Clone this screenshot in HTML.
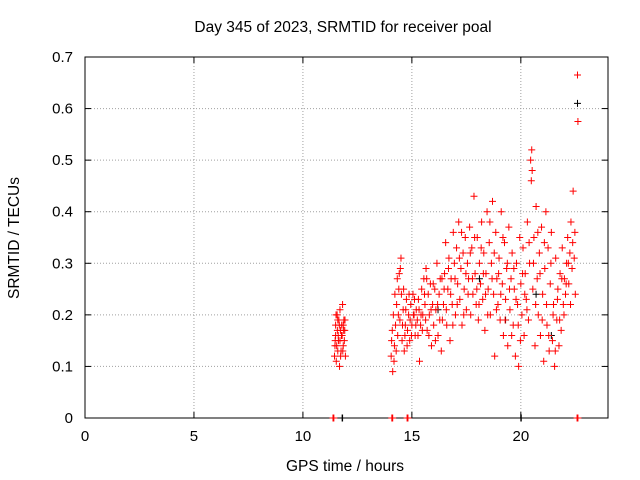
<!DOCTYPE html>
<html><head><meta charset="utf-8"><style>
html,body{margin:0;padding:0;background:#fff}
svg{display:block;font-family:"Liberation Sans",sans-serif}
</style></head><body>
<svg id="chart" width="640" height="480" viewBox="0 0 640 480">
<rect width="640" height="480" fill="#fff"/>
<text x="343" y="32" font-size="15.5" text-anchor="middle" fill="#000">Day 345 of 2023, SRMTID for receiver poal</text>
<g id="grid"></g>
<g id="axes"></g>
<g id="marks"></g>
<text x="345" y="471" font-size="15.5" text-anchor="middle">GPS time / hours</text>
<text transform="translate(19,238) rotate(-90)" font-size="15.5" text-anchor="middle">SRMTID / TECUs</text>
</svg>
<script>
const xTicks=[0,5,10,15,20];
const yTicks=[0,0.1,0.2,0.3,0.4,0.5,0.6,0.7];
const yTickLabels=["0","0.1","0.2","0.3","0.4","0.5","0.6","0.7"];
const redTimes=[11.45,11.48,11.5,11.52,11.55,11.58,11.6,11.62,11.65,11.68,11.7,11.72,11.75,11.78,11.8,11.82,11.85,11.88,11.9,11.92,11.95,11.5,11.6,11.7,11.85,
14.05,14.1,14.12,14.15,14.2,14.25,14.3,14.35,14.4,14.42,14.45,14.5,14.52,14.55,14.6,14.65,14.7,14.75,14.8,14.85,14.9,14.95,15.0,15.05,15.1,15.15,15.2,15.25,15.3,15.35,15.4,15.45,15.5,15.55,15.6,15.65,15.7,15.75,15.8,15.85,15.9,15.95,16.0,16.05,16.1,16.15,16.2,16.25,16.3,16.35,16.4,16.45,16.5,16.55,16.6,16.65,16.7,16.75,16.8,16.85,16.9,16.95,17.0,17.05,17.1,17.15,17.2,17.25,17.3,17.35,17.4,17.45,17.5,17.55,17.6,17.65,17.7,17.75,17.8,17.85,17.9,17.95,18.0,18.05,18.1,18.15,18.2,18.25,18.3,18.35,18.4,18.45,18.5,18.55,18.6,18.65,18.7,18.75,18.8,18.85,18.9,18.95,19.0,19.05,19.1,19.15,19.2,19.25,19.3,19.35,19.4,19.45,19.5,19.55,19.6,19.65,19.7,19.75,19.8,19.85,19.9,19.95,20.0,20.05,20.1,20.15,20.2,20.25,20.3,20.35,20.4,20.45,20.5,20.55,20.6,20.65,20.7,20.75,20.8,20.85,20.9,20.95,21.0,21.05,21.1,21.15,21.2,21.25,21.3,21.35,21.4,21.45,21.5,21.55,21.6,21.65,21.7,21.75,21.8,21.85,21.9,21.95,22.0,22.05,22.1,22.15,22.2,22.25,22.3,22.35,22.4,22.45,22.5,22.6,22.62,
11.47,11.53,11.57,11.63,11.67,11.73,11.77,11.83,11.87,11.93,
14.07,14.18,14.22,14.28,14.33,14.38,14.47,14.57,14.62,14.68,14.72,14.78,14.87,14.92,14.98,15.07,15.12,15.18,15.28,15.33,15.42,15.48,15.58,15.63,15.68,15.78,15.88,15.98,16.08,16.18,16.28,16.38,16.48,16.58,16.68,16.78,16.88,16.98,17.08,17.18,17.28,17.38,17.48,17.58,17.68,17.78,17.88,17.98,18.08,18.18,18.28,18.38,18.48,18.58,18.68,18.78,18.88,18.98,19.08,19.18,19.28,19.38,19.48,19.58,19.68,19.78,19.88,19.98,20.08,20.18,20.28,20.38,20.48,20.52,20.58,20.68,20.78,20.88,20.98,21.08,21.18,21.28,21.38,21.48,21.58,21.68,21.78,21.88,21.98,22.08,22.18,22.28,22.38,22.48,
11.38,11.4,11.42,14.08,14.1,14.12,14.78,14.8,14.82,22.58,22.6,22.62];
const redValues=[.12,.15,.18,.2,.14,.17,.13,.16,.19,.1,.15,.17,.13,.18,.16,.22,.14,.19,.15,.17,.12,.16,.19,.21,.18,
.12,.17,.09,.2,.14,.18,.22,.16,.25,.28,.19,.31,.24,.15,.21,.13,.18,.23,.17,.2,.15,.22,.18,.24,.2,.16,.21,.19,.23,.11,.18,.25,.2,.27,.22,.29,.17,.24,.2,.26,.14,.22,.18,.25,.21,.3,.16,.24,.27,.13,.19,.22,.28,.34,.18,.25,.31,.15,.27,.22,.36,.3,.2,.33,.26,.38,.23,.29,.18,.32,.25,.35,.21,.3,.27,.37,.2,.33,.24,.43,.28,.22,.35,.19,.3,.26,.38,.23,.32,.17,.28,.4,.25,.34,.2,.3,.42,.24,.12,.36,.27,.22,.31,.19,.4,.26,.16,.34,.23,.29,.14,.37,.21,.27,.32,.18,.25,.12,.3,.22,.1,.35,.26,.2,.33,.16,.28,.23,.38,.19,.3,.5,.52,.25,.35,.14,.41,.27,.2,.32,.16,.37,.24,.11,.29,.4,.18,.33,.13,.26,.36,.15,.22,.1,.31,.19,.25,.14,.28,.17,.33,.22,.27,.24,.3,.35,.26,.32,.38,.29,.44,.31,.24,.665,.575,
.14,.11,.2,.15,.18,.12,.16,.13,.17,.19,
.15,.11,.24,.13,.27,.2,.29,.18,.25,.16,.21,.14,.24,.19,.16,.2,.23,.18,.16,.21,.2,.17,.24,.19,.27,.16,.21,.26,.15,.22,.19,.27,.25,.21,.29,.24,.18,.27,.22,.31,.36,.2,.28,.24,.32,.27,.35,.25,.22,.33,.28,.24,.2,.38,.27,.32,.21,.28,.24,.35,.19,.3,.25,.16,.29,.23,.18,.15,.28,.24,.21,.34,.46,.48,.3,.22,.36,.28,.19,.34,.22,.16,.3,.2,.13,.23,.19,.27,.2,.26,.3,.22,.34,.36,
0,0,0,0,0,0,0,0,0,0,0,0];
const blackTimes=[22.6,11.8,11.82,20.0,20.02,16.2,18.1,19.3,20.7,21.4];
const blackValues=[.61,0,0,0,0,.21,.27,.19,.24,.16];
const NS="http://www.w3.org/2000/svg";
const L=85,R=608,T=57,B=418,xMax=24,yMax=0.7;
const xs=v=>L+(v/xMax)*(R-L);
const ys=v=>B-(v/yMax)*(B-T);
function mk(tag,attrs,parent){const e=document.createElementNS(NS,tag);for(const k in attrs)e.setAttribute(k,attrs[k]);parent.appendChild(e);return e;}
const grid=document.getElementById('grid'),axes=document.getElementById('axes'),marks=document.getElementById('marks');
xTicks.forEach(t=>{const x=xs(t);
 if(t>0){const g=mk('line',{x1:x,x2:x,y1:T,y2:B,stroke:'#a0a0a0','stroke-dasharray':'1,2'},grid);
 
 }
 mk('line',{x1:x,x2:x,y1:B,y2:B-6,stroke:'#000'},axes);
 mk('line',{x1:x,x2:x,y1:T,y2:T+6,stroke:'#000'},axes);
 const lb=mk('text',{x:x,y:B+23,'font-size':15,'text-anchor':'middle'},axes);lb.textContent=t;
 
 
});
yTicks.forEach((t,i)=>{const y=ys(t);
 if(t>0&&t<yMax){const g=mk('line',{x1:L,x2:R,y1:y,y2:y,stroke:'#a0a0a0','stroke-dasharray':'1,2'},grid);
 
 }
 mk('line',{x1:L,x2:L+6,y1:y,y2:y,stroke:'#000'},axes);
 mk('line',{x1:R,x2:R-6,y1:y,y2:y,stroke:'#000'},axes);
 const lb=mk('text',{x:L-12,y:y+5,'font-size':15,'text-anchor':'end'},axes);lb.textContent=yTickLabels[i];
 
 
});
mk('rect',{x:L,y:T,width:R-L,height:B-T,fill:'none',stroke:'#000'},axes);
function plus(t,v,color){const x=xs(t),y=ys(v);
 const p=mk('path',{d:`M${x-3.5},${y}h7M${x},${y-3.5}v7`,stroke:color,'stroke-width':1,fill:'none'},marks);
 
 }
blackTimes.forEach((t,i)=>plus(t,blackValues[i],'#000'));
redTimes.forEach((t,i)=>plus(t,redValues[i],'#ff0000'));
</script>
</body></html>
